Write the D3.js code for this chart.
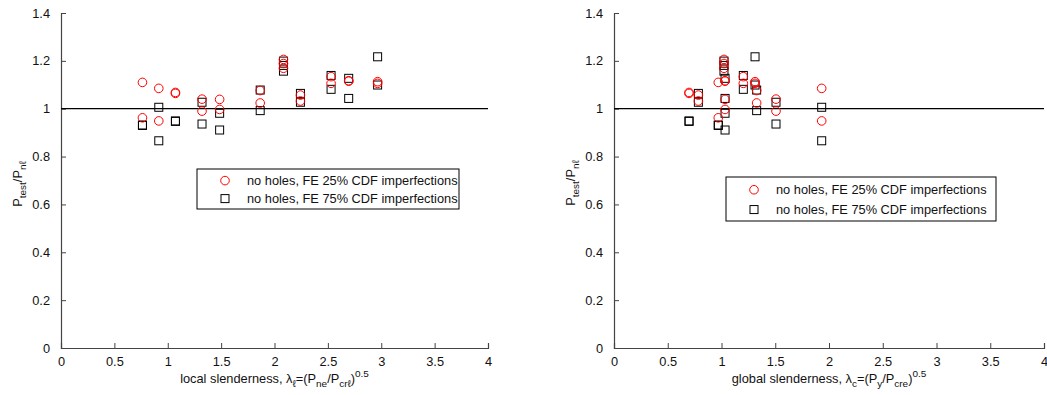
<!DOCTYPE html>
<html><head><meta charset="utf-8">
<script src="https://cdn.jsdelivr.net/npm/d3@7"></script>
<style>body{margin:0;background:#fff}svg{display:block}text{font-family:"Liberation Sans",Arial,sans-serif;fill:#111}</style>
</head><body><svg id="c" width="1047" height="395"></svg>
<script>
// one entry per specimen
const localSlenderness  = [0.763,0.763,0.916,0.916,1.072,1.072,1.321,1.321,1.486,1.486,1.866,1.866,2.084,2.084,2.084,2.243,2.243,2.530,2.530,2.695,2.695,2.966,2.966];
const globalSlenderness = [0.970,0.970,1.932,1.932,0.698,0.698,1.507,1.507,1.033,1.033,1.327,1.327,1.023,1.023,1.023,0.785,0.785,1.203,1.203,1.033,1.033,1.312,1.312];
const fe25Ratio = [1.110,0.962,1.085,0.949,1.068,1.064,1.040,0.990,1.039,0.997,1.076,1.024,1.206,1.189,1.169,1.057,1.032,1.134,1.106,1.117,1.115,1.113,1.106];
const fe75Ratio = [0.932,0.930,1.006,0.866,0.949,0.947,1.027,0.936,0.981,0.911,1.078,0.992,1.199,1.181,1.157,1.064,1.027,1.139,1.081,1.127,1.043,1.217,1.099];
const xTicks = [0,0.5,1,1.5,2,2.5,3,3.5,4];
const yTicks = [0,0.2,0.4,0.6,0.8,1,1.2,1.4];
const legendLabels = ["no holes, FE 25% CDF imperfections","no holes, FE 75% CDF imperfections"];

const svg = d3.select("#c");
const FS = 12.8;

function panel(opts){
  const x = d3.scaleLinear().domain([0,4]).range([opts.x0,opts.x1]);
  const y = d3.scaleLinear().domain([0,1.4]).range([348,13]);
  const g = svg.append("g");
  const ax = g.append("g").attr("transform","translate(0,348)")
    .call(d3.axisBottom(x).tickValues(xTicks).tickSize(-5).tickPadding(9).tickFormat(d=>d3.format("")(d)));
  const ay = g.append("g").attr("transform",`translate(${opts.x0},0)`)
    .call(d3.axisLeft(y).tickValues(yTicks).tickSize(-5).tickPadding(11).tickFormat(d=>d3.format("")(d)));
  [ax,ay].forEach(a=>{
    a.select(".domain").attr("stroke","#444").attr("stroke-width",1.2);
    a.selectAll(".tick line").attr("stroke","#444");
    a.selectAll(".tick text").attr("font-size",FS).attr("fill","#111").attr("font-family","Liberation Sans, Arial, sans-serif");
  });
  g.append("line").attr("x1",x(0)).attr("x2",x(4)).attr("y1",y(1)).attr("y2",y(1)).attr("stroke","#000").attr("stroke-width",1.3);
  const xs = opts.xs;
  g.selectAll("rect.s").data(fe75Ratio).join("rect")
    .attr("x",(d,i)=>x(xs[i])-4).attr("y",d=>y(d)-4).attr("width",8).attr("height",8)
    .attr("fill","none").attr("stroke","#000").attr("stroke-width",1);
  g.selectAll("circle.c").data(fe25Ratio).join("circle")
    .attr("cx",(d,i)=>x(xs[i])).attr("cy",d=>y(d)).attr("r",4.3)
    .attr("fill","none").attr("stroke","#ff0000").attr("stroke-width",1);
  const L = opts.leg;
  g.append("rect").attr("x",L.x).attr("y",L.y).attr("width",L.w).attr("height",L.h)
    .attr("fill","#fff").attr("stroke","#000").attr("stroke-width",1);
  const r1 = L.y + L.h*0.29, r2 = L.y + L.h*0.74;
  g.append("circle").attr("cx",L.x+28).attr("cy",r1).attr("r",4.3).attr("fill","none").attr("stroke","#ff0000");
  g.append("rect").attr("x",L.x+24).attr("y",r2-4).attr("width",8).attr("height",8).attr("fill","none").attr("stroke","#000");
  [r1,r2].forEach((ry,i)=>g.append("text").attr("x",L.x+50).attr("y",ry+4.5).attr("font-size",FS).text(legendLabels[i]));
  const yl = g.append("text").attr("transform",`translate(${opts.ylx},${opts.yly}) rotate(-90)`).attr("text-anchor","middle").attr("font-size",FS);
  yl.append("tspan").text("P");
  yl.append("tspan").attr("font-size",FS*0.78).attr("dy",4).text("test");
  yl.append("tspan").attr("dy",-4).text("/P");
  yl.append("tspan").attr("font-size",FS*0.78).attr("dy",4).text("nℓ");
  const xl = g.append("text").attr("x",(opts.x0+opts.x1)/2).attr("y",383).attr("text-anchor","middle").attr("font-size",FS);
  opts.xlabel(xl);
}

panel({x0:61,x1:488,xs:localSlenderness,
  leg:{x:197,y:169,w:262,h:40}, ylx:22, yly:184,
  xlabel:t=>{
    t.append("tspan").text("local slenderness, λ");
    t.append("tspan").attr("font-size",FS*0.78).attr("dy",4).text("ℓ");
    t.append("tspan").attr("dy",-4).text("=(P");
    t.append("tspan").attr("font-size",FS*0.78).attr("dy",4).text("ne");
    t.append("tspan").attr("dy",-4).text("/P");
    t.append("tspan").attr("font-size",FS*0.78).attr("dy",4).text("crℓ");
    t.append("tspan").attr("dy",-4).text(")");
    t.append("tspan").attr("font-size",FS*0.78).attr("dy",-6).text("0.5");
  }});
panel({x0:614,x1:1044,xs:globalSlenderness,
  leg:{x:726,y:177,w:270,h:44}, ylx:575, yly:183,
  xlabel:t=>{
    t.append("tspan").text("global slenderness, λ");
    t.append("tspan").attr("font-size",FS*0.78).attr("dy",4).text("c");
    t.append("tspan").attr("dy",-4).text("=(P");
    t.append("tspan").attr("font-size",FS*0.78).attr("dy",4).text("y");
    t.append("tspan").attr("dy",-4).text("/P");
    t.append("tspan").attr("font-size",FS*0.78).attr("dy",4).text("cre");
    t.append("tspan").attr("dy",-4).text(")");
    t.append("tspan").attr("font-size",FS*0.78).attr("dy",-6).text("0.5");
  }});
</script></body></html>
